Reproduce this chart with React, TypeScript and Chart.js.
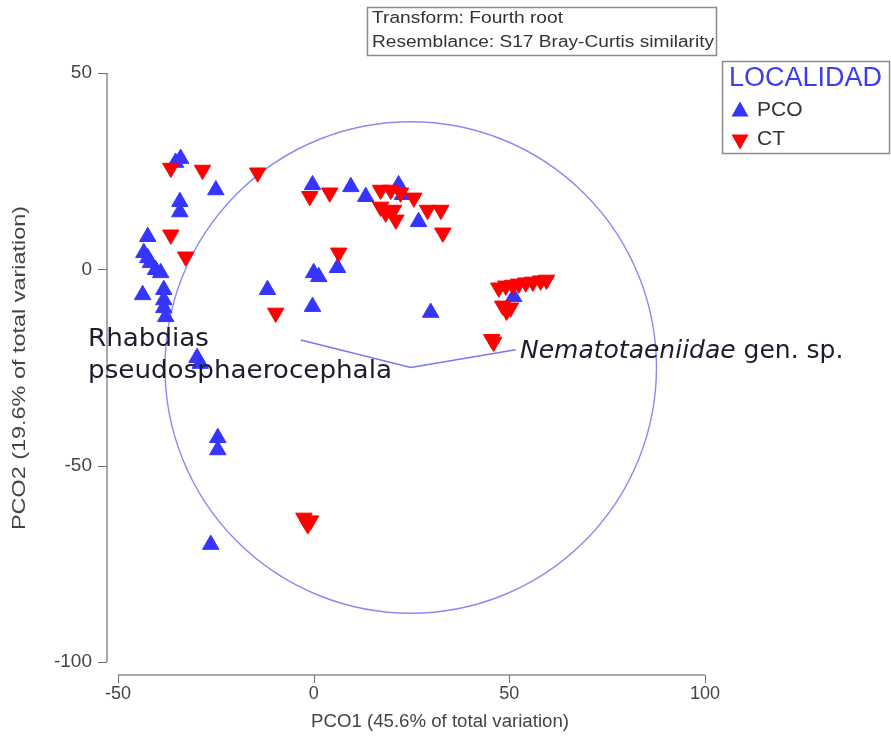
import React, { useEffect, useRef } from "react";
import { Chart, registerables } from "chart.js";

Chart.register(...registerables);

// ---- data ----
const seriesNames = ["PCO", "CT"];
const legendTitle = "LOCALIDAD";
const infoLines = ["Transform: Fourth root", "Resemblance: S17 Bray-Curtis similarity"];
const xAxisTitle = "PCO1 (45.6% of total variation)";
const yAxisTitle = "PCO2 (19.6% of total variation)";
const xTicks = [-50, 0, 50, 100];
const yTicks = [-100, -50, 0, 50];

const pcoX = [-34, -35.3, -25, -34.2, -34.2, -42.4, -43.4, -42.4, -41.7, -40.4, -39.1, -43.7, -38.3, -38.3, -38.3, -37.8, -11.8, -29.8, -29.0, -24.5, -24.5, -26.3, -0.3, 9.5, 13.3, 21.7, 22.7, 26.8, 6.1, 0, 1.3, -0.3, 29.9, 51.1];
const pcoY = [28.2, 27.2, 20.2, 17.2, 14.6, 8.3, 4.2, 2.9, 1.7, -0.1, -0.9, -6.5, -5.2, -7.8, -9.8, -12.1, -5.2, -22.5, -24.0, -42.9, -46.0, -70.1, 21.5, 21, 18.5, 21.5, 19.0, 12.1, 0.4, -0.9, -1.9, -9.5, -11, -7.0];

const ctX = [-36.5, -28.4, -14.3, -36.5, -32.7, -9.7, -1.0, 4.1, 17.1, 19.7, 22.2, 17.1, 18.4, 20.4, 21, 25.6, 29.1, 32.5, 33, 6.4, 47.3, 49.1, 50.9, 52.4, 54.2, 56.0, 58.0, 59.5, 48.3, 49.3, 50.3, 46, 45.5, -2.5, -0.8, -1.5];
const ctY = [25.8, 25.3, 24.6, 8.8, 3.2, -11.1, 18.6, 19.5, 20.2, 20.2, 19.5, 15.9, 14.4, 15.1, 12.6, 18.2, 15.1, 15.1, 9.3, 4.2, -4.7, -4.2, -4.0, -3.7, -3.4, -3.2, -2.9, -2.7, -9.3, -10.6, -9.8, -18.5, -17.8, -63.3, -64, -65];

// vector overlay (Rhabdias end, origin, Nematotaeniidae end)
const vectorX = [-3.3, 24.8, 51.6];
const vectorY = [-18, -25, -20.5];
const circleCenter = [24.8, -25];
const circleRadius = 62.8;
const vectorLabel1 = ["Rhabdias", "pseudosphaerocephala"];
const vectorLabel2Italic = "Nematotaeniidae";
const vectorLabel2Rest = " gen. sp.";

const BLUE = "#3535ff";
const RED = "#ff0000";
const SANS = "'Liberation Sans', Arial, sans-serif";
const DEJA = "'DejaVu Sans', Verdana, sans-serif";

function tri(ctx: CanvasRenderingContext2D, cx: number, cy: number, up: boolean, color: string) {
  ctx.beginPath();
  if (up) {
    ctx.moveTo(cx, cy - 8.5);
    ctx.lineTo(cx + 8.5, cy + 6.5);
    ctx.lineTo(cx - 8.5, cy + 6.5);
  } else {
    ctx.moveTo(cx, cy + 8.5);
    ctx.lineTo(cx + 8.5, cy - 6.5);
    ctx.lineTo(cx - 8.5, cy - 6.5);
  }
  ctx.closePath();
  ctx.fillStyle = color;
  ctx.fill();
}

// draw text stretched along its direction to a target length
function stretchText(ctx: CanvasRenderingContext2D, text: string, x: number, y: number, targetW: number) {
  const w = ctx.measureText(text).width;
  const k = targetW / w;
  ctx.save();
  ctx.translate(x, y);
  ctx.scale(k, 1);
  ctx.fillText(text, 0, 0);
  ctx.restore();
}

const decor = {
  id: "decor",
  beforeDatasetsDraw(chart: any) {
    const { ctx, scales } = chart;
    const x = scales.x, y = scales.y;
    const cx = x.getPixelForValue(circleCenter[0]);
    const cy = y.getPixelForValue(circleCenter[1]);
    const r = x.getPixelForValue(circleCenter[0] + circleRadius) - cx;
    ctx.save();
    ctx.beginPath();
    ctx.arc(cx, cy, r, 0, Math.PI * 2);
    ctx.strokeStyle = "#8a8af2";
    ctx.lineWidth = 1.4;
    ctx.stroke();
    ctx.restore();
  },
  afterDraw(chart: any) {
    const { ctx, scales } = chart;
    const x = scales.x, y = scales.y;
    ctx.save();
    // y axis (offset)
    const ax = x.left - 11;
    ctx.strokeStyle = "#a8a8a8";
    ctx.lineWidth = 2;
    ctx.beginPath();
    ctx.moveTo(ax, y.getPixelForValue(50));
    ctx.lineTo(ax, y.getPixelForValue(-100));
    ctx.stroke();
    ctx.strokeStyle = "#707070";
    ctx.lineWidth = 1;
    yTicks.forEach((t) => {
      const py = Math.round(y.getPixelForValue(t)) + 0.5;
      ctx.beginPath();
      ctx.moveTo(ax - 9, py);
      ctx.lineTo(ax, py);
      ctx.stroke();
    });
    // x axis (offset)
    const ay = y.bottom + 13;
    ctx.strokeStyle = "#a8a8a8";
    ctx.lineWidth = 2;
    ctx.beginPath();
    ctx.moveTo(x.getPixelForValue(-50), ay);
    ctx.lineTo(x.getPixelForValue(100), ay);
    ctx.stroke();
    ctx.strokeStyle = "#707070";
    ctx.lineWidth = 1;
    xTicks.forEach((t) => {
      const px = Math.round(x.getPixelForValue(t)) + 0.5;
      ctx.beginPath();
      ctx.moveTo(px, ay);
      ctx.lineTo(px, ay + 8);
      ctx.stroke();
    });

    // axis titles
    ctx.fillStyle = "#444";
    ctx.textBaseline = "middle";
    ctx.textAlign = "left";
    ctx.font = "18px " + SANS;
    stretchText(ctx, xAxisTitle, 311, 722, 258);
    ctx.save();
    ctx.translate(20, 530);
    ctx.rotate(-Math.PI / 2);
    ctx.font = "19px " + SANS;
    stretchText(ctx, yAxisTitle, 0, 0, 324);
    ctx.restore();

    // vector labels
    ctx.fillStyle = "#1c1c2c";
    ctx.textBaseline = "alphabetic";
    ctx.textAlign = "left";
    ctx.font = "25px " + DEJA;
    stretchText(ctx, vectorLabel1[0], 88, 346, 121);
    stretchText(ctx, vectorLabel1[1], 88, 378, 304);
    ctx.font = "italic 25px " + DEJA;
    ctx.fillText(vectorLabel2Italic, 520, 358);
    const w = ctx.measureText(vectorLabel2Italic).width;
    ctx.font = "25px " + DEJA;
    ctx.fillText(vectorLabel2Rest, 520 + w, 358);

    // info box
    ctx.strokeStyle = "#8a8a8a";
    ctx.lineWidth = 1.5;
    ctx.strokeRect(367.5, 7.5, 349, 48);
    ctx.fillStyle = "#333";
    ctx.textBaseline = "middle";
    ctx.font = "16px " + SANS;
    stretchText(ctx, infoLines[0], 372, 19, 191);
    stretchText(ctx, infoLines[1], 372, 43, 342);

    // legend box
    ctx.strokeStyle = "#8a8a8a";
    ctx.lineWidth = 1.5;
    ctx.strokeRect(722.5, 61.5, 167, 92);
    ctx.fillStyle = "#3c3cf0";
    ctx.font = "27px " + SANS;
    ctx.fillText(legendTitle, 729, 79);
    tri(ctx, 740, 110, true, BLUE);
    tri(ctx, 740, 141, false, RED);
    ctx.fillStyle = "#333";
    ctx.font = "21px " + SANS;
    ctx.fillText(seriesNames[0], 757, 110);
    ctx.fillText(seriesNames[1], 757, 139);
    ctx.restore();
  },
};

export default function App() {
  const ref = useRef<HTMLCanvasElement | null>(null);
  useEffect(() => {
    if (!ref.current) return;
    const pco = pcoX.map((v, i) => ({ x: v, y: pcoY[i] }));
    const ct = ctX.map((v, i) => ({ x: v, y: ctY[i] }));
    const vec = vectorX.map((v, i) => ({ x: v, y: vectorY[i] }));
    const chart = new Chart(ref.current, {
      type: "scatter",
      data: {
        datasets: [
          {
            label: seriesNames[1],
            data: ct,
            pointStyle: "triangle",
            rotation: 180,
            radius: 9.5,
            backgroundColor: RED,
            borderColor: RED,
            borderWidth: 1,
          },
          {
            label: seriesNames[0],
            data: pco,
            pointStyle: "triangle",
            radius: 9.5,
            backgroundColor: BLUE,
            borderColor: BLUE,
            borderWidth: 1,
          },
          {
            label: "vectors",
            data: vec,
            showLine: true,
            pointRadius: 0,
            borderColor: "#7878ee",
            borderWidth: 1.5,
            fill: false,
          } as any,
        ],
      },
      options: {
        responsive: false,
        animation: false,
        devicePixelRatio: 1,
        layout: { padding: { top: 73, right: 186, left: 0, bottom: 0 } },
        plugins: { legend: { display: false }, tooltip: { enabled: false } },
        scales: {
          x: {
            type: "linear",
            min: -50,
            max: 100,
            afterFit: (s: any) => { s.height = 80; },
            afterBuildTicks: (s: any) => { s.ticks = xTicks.map((v) => ({ value: v })); },
            grid: { display: false, drawTicks: false },
            border: { display: false },
            ticks: { padding: 21, color: "#444", font: { family: SANS, size: 18 } },
            title: { display: false },
          },
          y: {
            type: "linear",
            min: -100,
            max: 50,
            afterFit: (s: any) => { s.width = 118; },
            afterBuildTicks: (s: any) => { s.ticks = yTicks.map((v) => ({ value: v })); },
            grid: { display: false, drawTicks: false },
            border: { display: false },
            ticks: { padding: 26, color: "#444", font: { family: SANS, size: 19 } },
            title: { display: false },
          },
        },
      },
      plugins: [decor],
    });
    return () => chart.destroy();
  }, []);
  return (
    <div style={{ position: "absolute", left: 0, top: 0, width: 891, height: 742, background: "#fff" }}>
      <canvas ref={ref} width={891} height={742} style={{ display: "block" }} />
    </div>
  );
}
